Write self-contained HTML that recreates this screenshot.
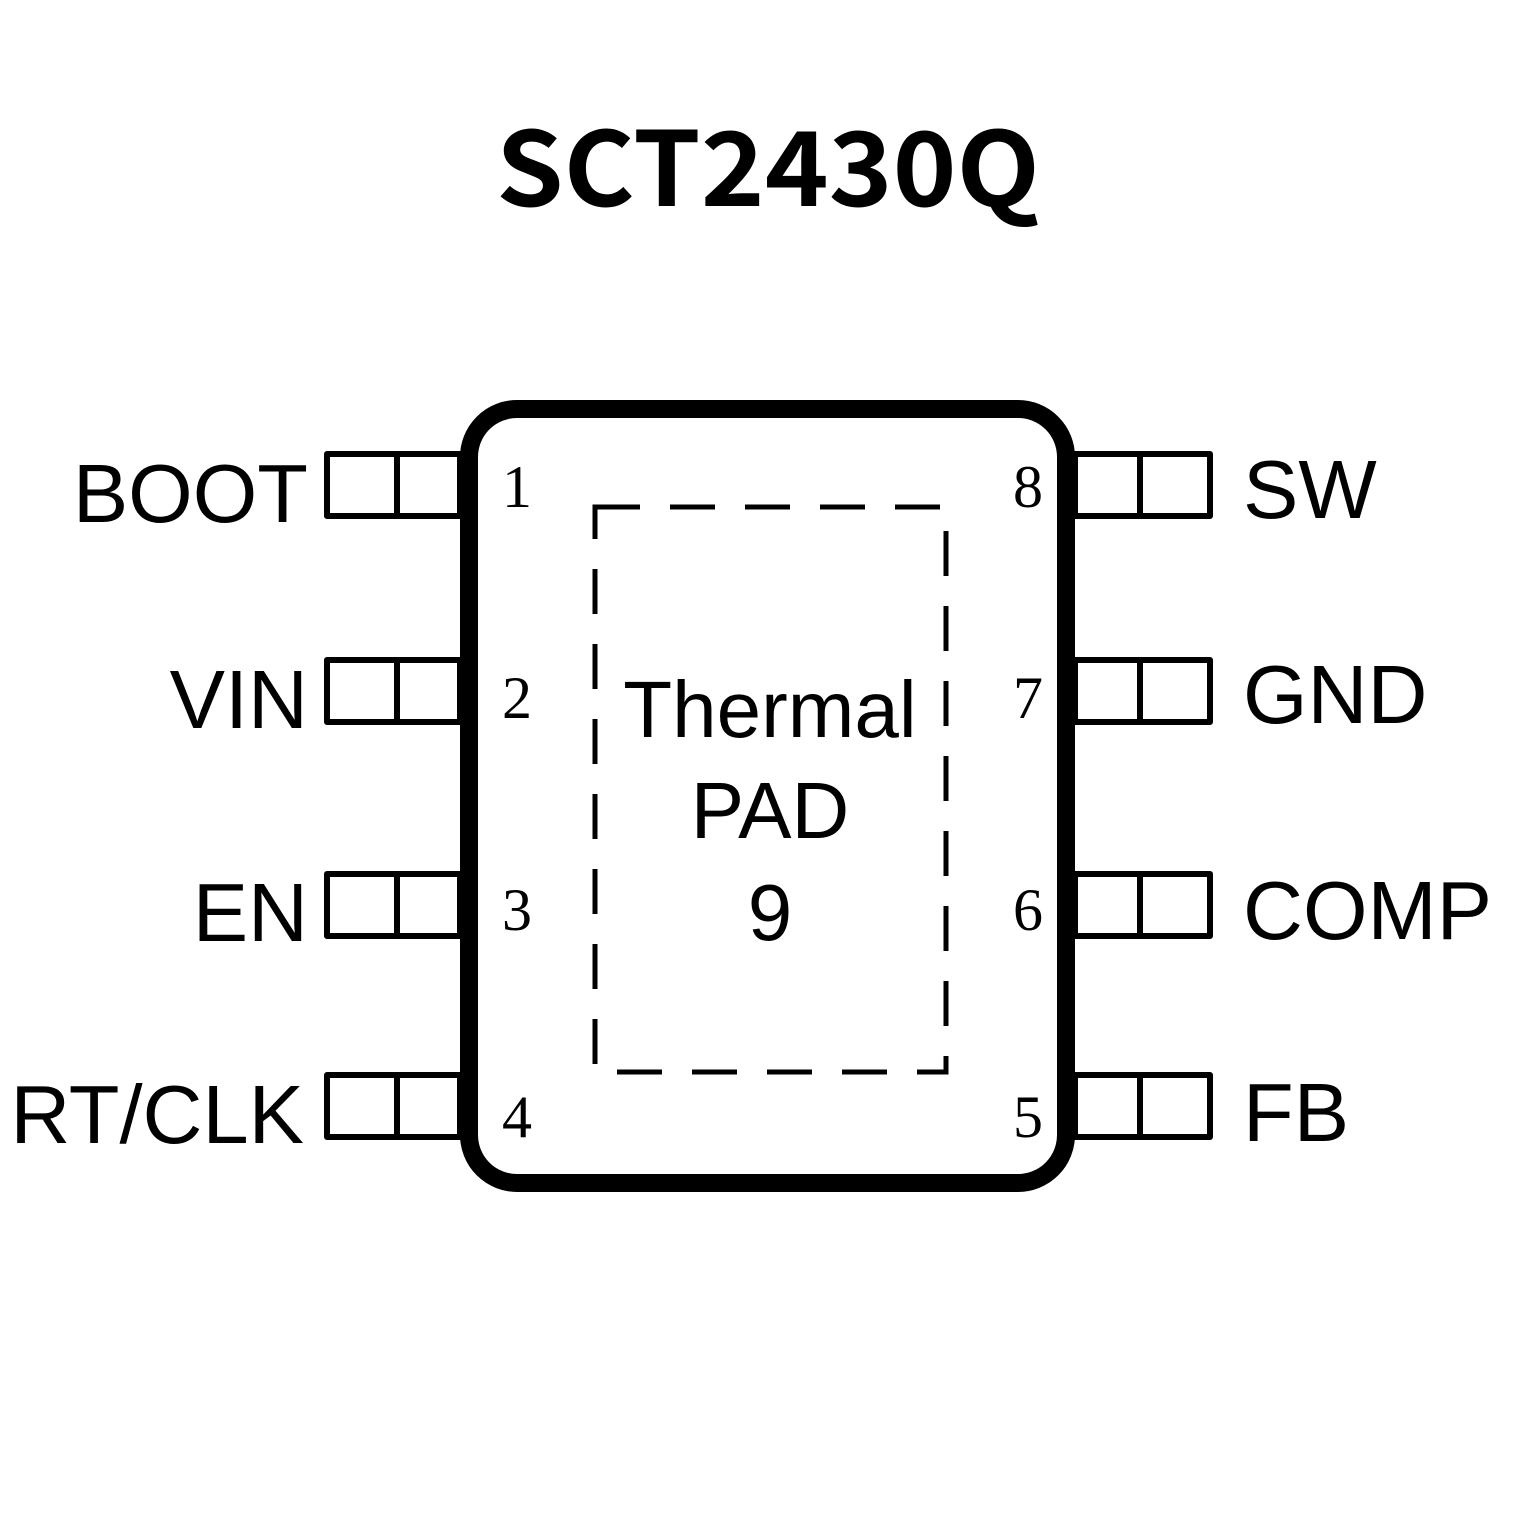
<!DOCTYPE html>
<html><head><meta charset="utf-8"><style>
html,body{margin:0;padding:0;background:#fff;}
svg{display:block;}
</style></head><body>
<svg width="1535" height="1535" viewBox="0 0 1535 1535" xmlns="http://www.w3.org/2000/svg">
<rect width="1535" height="1535" fill="#fff"/>
<text x="768" y="206" text-anchor="middle" font-family="'Noto Sans CJK SC','Liberation Sans',sans-serif" font-weight="bold" font-size="103" textLength="544" lengthAdjust="spacingAndGlyphs">SCT2430Q</text>

<g fill="none" stroke="#000" stroke-width="6" stroke-linejoin="round">
  <rect x="327" y="454" width="133" height="62"/><line x1="397" y1="454" x2="397" y2="516"/>
  <rect x="327" y="660" width="133" height="62"/><line x1="397" y1="660" x2="397" y2="722"/>
  <rect x="327" y="874" width="133" height="62"/><line x1="397" y1="874" x2="397" y2="936"/>
  <rect x="327" y="1075" width="133" height="62"/><line x1="397" y1="1075" x2="397" y2="1137"/>
  <rect x="1075" y="454" width="135" height="62"/><line x1="1140" y1="454" x2="1140" y2="516"/>
  <rect x="1075" y="660" width="135" height="62"/><line x1="1140" y1="660" x2="1140" y2="722"/>
  <rect x="1075" y="874" width="135" height="62"/><line x1="1140" y1="874" x2="1140" y2="936"/>
  <rect x="1075" y="1075" width="135" height="62"/><line x1="1140" y1="1075" x2="1140" y2="1137"/>
</g>
<rect x="469" y="409" width="597" height="774" rx="48" ry="48" fill="none" stroke="#000" stroke-width="18"/>
<rect x="595" y="507" width="351" height="565" fill="none" stroke="#000" stroke-width="5" stroke-dasharray="45 30"/>

<g font-family="'Liberation Sans',sans-serif" font-size="83" fill="#000">
  <text x="308" y="522" text-anchor="end">BOOT</text>
  <text x="308" y="728" text-anchor="end">VIN</text>
  <text x="308" y="941" text-anchor="end">EN</text>
  <text x="304" y="1143" text-anchor="end">RT/CLK</text>
  <text x="1243" y="518">SW</text>
  <text x="1243" y="723">GND</text>
  <text x="1243" y="939">COMP</text>
  <text x="1243" y="1141">FB</text>
</g>
<g font-family="'Liberation Sans',sans-serif" font-size="80" fill="#000" text-anchor="middle">
  <text x="770" y="737">Thermal</text>
  <text x="770" y="838">PAD</text>
  <text x="770" y="940">9</text>
</g>
<g font-family="'Liberation Serif',serif" font-size="60" fill="#000" text-anchor="middle">
  <text x="517" y="507">1</text>
  <text x="517" y="718">2</text>
  <text x="517" y="930">3</text>
  <text x="517" y="1137">4</text>
  <text x="1028" y="507">8</text>
  <text x="1028" y="718">7</text>
  <text x="1028" y="930">6</text>
  <text x="1028" y="1137">5</text>
</g>
</svg>
</body></html>
